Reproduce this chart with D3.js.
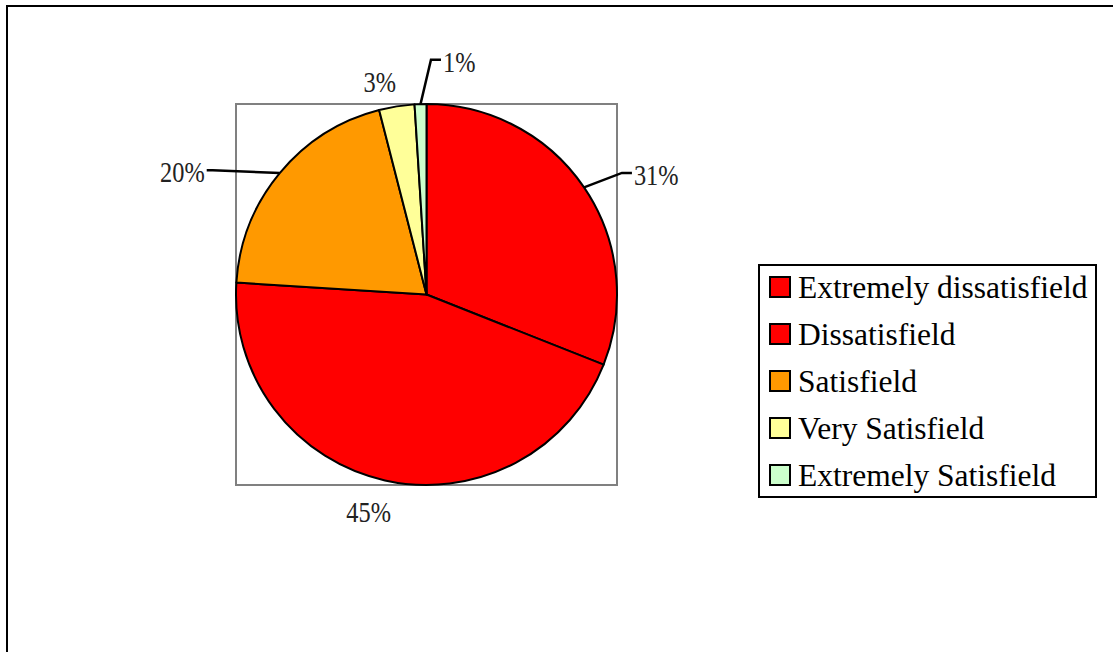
<!DOCTYPE html>
<html>
<head>
<meta charset="utf-8">
<script src="https://cdn.jsdelivr.net/npm/d3@7"></script>
<style>
  body { margin: 0; background: #fff; }
</style>
</head>
<body>
<svg id="chart" width="1113" height="652"></svg>
<script>
// chart data
const categories = ['Extremely dissatisfield', 'Dissatisfield', 'Satisfield', 'Very Satisfield', 'Extremely Satisfield'];
const values = [31, 45, 20, 3, 1];
const colors = ['#ff0000', '#ff0000', '#ff9900', '#ffff99', '#ccffcc'];

// label placement (polar, relative to pie centre): angle in degrees, distance in px
const labelAngle = [62.5, 194.9, 296.6, 347.6, 8];
const labelDist = [259, 225, 273, 218, 235];
const hasLeader = [true, false, true, false, true];

const FONT = 'Liberation Serif';

const svg = d3.select('#chart');
const W = 1113, H = 652;

// outer frame (runs off the right/bottom edges)
svg.append('rect')
    .attr('x', 7).attr('y', 6)
    .attr('width', W + 20).attr('height', H + 20)
    .attr('fill', 'none')
    .attr('stroke', '#000')
    .attr('stroke-width', 2);

// plot area
const plot = {x: 236, y: 104, w: 381, h: 381};
svg.append('rect')
    .attr('x', plot.x).attr('y', plot.y)
    .attr('width', plot.w).attr('height', plot.h)
    .attr('fill', 'none')
    .attr('stroke', '#808080')
    .attr('stroke-width', 2);

const cx = plot.x + plot.w / 2,
    cy = plot.y + plot.h / 2,
    r = plot.w / 2;

const pie = d3.pie().sort(null).value(d => d)(values);
const arc = d3.arc().innerRadius(0).outerRadius(r);

const g = svg.append('g').attr('transform', 'translate(' + cx + ',' + cy + ')');

g.selectAll('path.slice')
    .data(pie)
    .enter().append('path')
    .attr('class', 'slice')
    .attr('d', arc)
    .attr('fill', (d, i) => colors[i])
    .attr('stroke', '#000')
    .attr('stroke-width', 2)
    .attr('stroke-linejoin', 'round');

// data labels (slightly condensed to mimic the original face)
const toRad = Math.PI / 180;
const lx = i => labelDist[i] * Math.sin(labelAngle[i] * toRad),
    ly = i => -labelDist[i] * Math.cos(labelAngle[i] * toRad);
const labels = g.selectAll('text.lbl')
    .data(pie)
    .enter().append('text')
    .attr('class', 'lbl')
    .attr('transform', (d, i) => 'translate(' + lx(i) + ',' + ly(i) + ') scale(0.84,1)')
    .attr('dy', '0.35em')
    .attr('text-anchor', 'middle')
    .attr('font-family', FONT)
    .attr('font-size', 29)
    .attr('fill', '#222')
    .text(d => Math.round(d.value / d3.sum(values) * 100) + '%');

// leader lines
const line = d3.line();
labels.each(function(d, i) {
    if (!hasLeader[i]) return;
    const halfW = this.getBBox().width * 0.84 / 2;
    const tx = lx(i), ty = ly(i);
    const mid = (d.startAngle + d.endAngle) / 2;
    const p0 = [r * Math.sin(mid), -r * Math.cos(mid)];
    const right = tx > 0;
    const edge = right ? tx - halfW - 2 : tx + halfW + 2;
    const yy = ty - 2;
    const elbow = [right ? edge - 10 : edge + 6, yy];
    g.append('path')
        .attr('d', line([p0, elbow, [edge, yy]]))
        .attr('fill', 'none')
        .attr('stroke', '#000')
        .attr('stroke-width', 2.5);
});

// legend
const legend = {x: 759, y: 265, w: 337, h: 232, row: 47};
svg.append('rect')
    .attr('x', legend.x).attr('y', legend.y)
    .attr('width', legend.w).attr('height', legend.h)
    .attr('fill', '#fff')
    .attr('stroke', '#000')
    .attr('stroke-width', 2);

const items = svg.selectAll('g.item')
    .data(categories)
    .enter().append('g')
    .attr('class', 'item')
    .attr('transform', (d, i) => 'translate(' + (legend.x + 11) + ',' + (legend.y + 22 + i * legend.row) + ')');

items.append('rect')
    .attr('x', 0).attr('y', -10)
    .attr('width', 20).attr('height', 20)
    .attr('fill', (d, i) => colors[i])
    .attr('stroke', '#000')
    .attr('stroke-width', 2);

items.append('text')
    .attr('x', 28)
    .attr('y', 0)
    .attr('dy', '0.34em')
    .attr('font-family', FONT)
    .attr('font-size', 31.5)
    .attr('fill', '#000')
    .text(d => d);
</script>
</body>
</html>
